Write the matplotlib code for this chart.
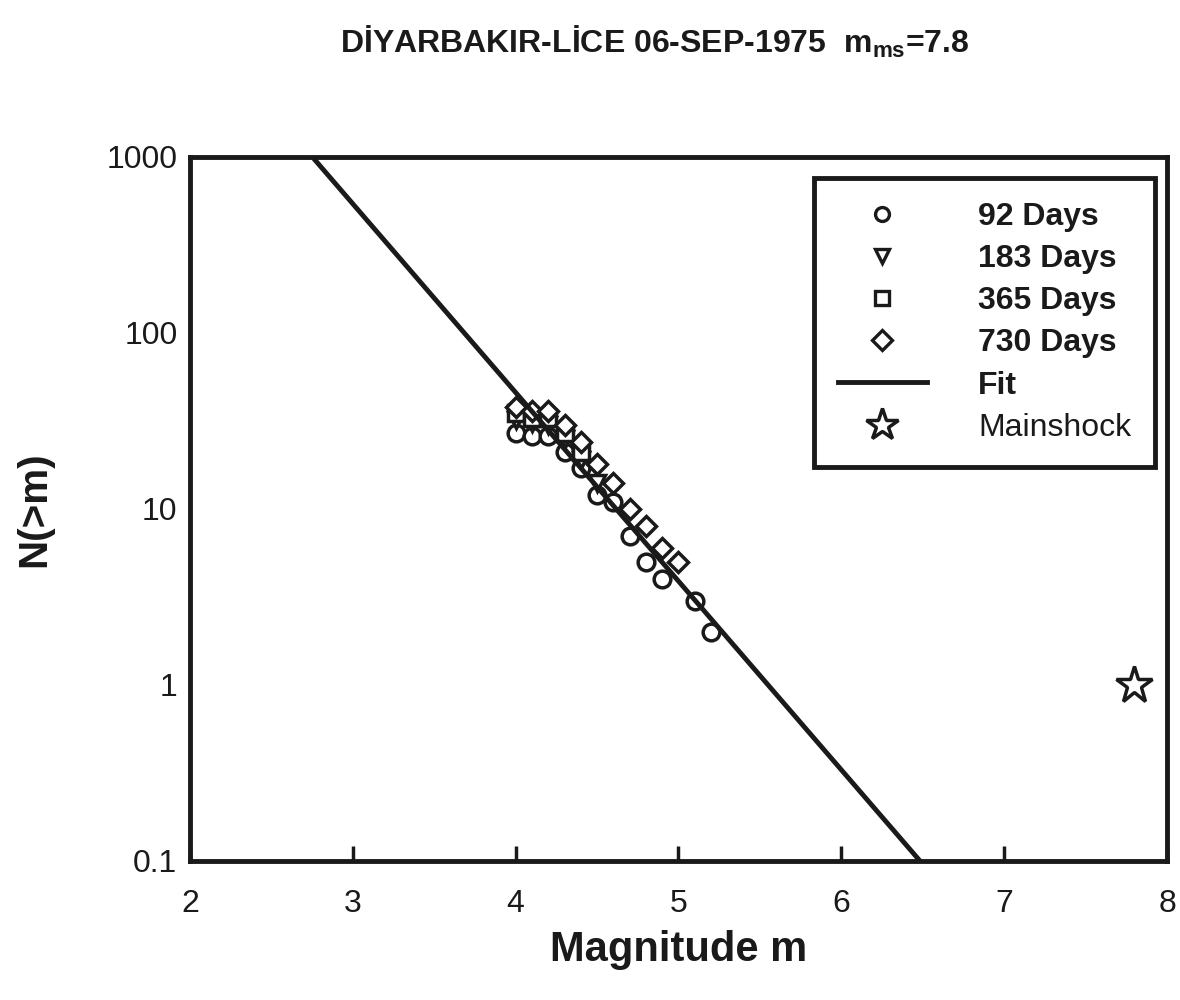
import numpy as np
import matplotlib.pyplot as plt

plt.rcParams['font.family'] = ['Liberation Sans', 'DejaVu Sans']
plt.rcParams['mathtext.fontset'] = 'custom'
plt.rcParams['mathtext.rm'] = 'Liberation Sans'
plt.rcParams['mathtext.bf'] = 'Liberation Sans:bold'

# cumulative number of aftershocks N(>m) for each time window
m_92 = [4.0, 4.1, 4.2, 4.3, 4.4, 4.5, 4.6, 4.7, 4.8, 4.9, 5.1, 5.2]
n_92 = [27, 26, 26, 21, 17, 12, 11, 7, 5, 4, 3, 2]
m_183 = [4.0, 4.1, 4.2, 4.3, 4.4, 4.5]
n_183 = [32, 31, 30, 25, 19, 14]
m_365 = [4.0, 4.1, 4.2, 4.3, 4.4]
n_365 = [35, 33, 33, 27, 21]
m_730 = [4.0, 4.1, 4.2, 4.3, 4.4, 4.5, 4.6, 4.7, 4.8, 4.9, 5.0]
n_730 = [38, 36, 36, 30, 24, 18, 14, 10, 8, 6, 5]

# Gutenberg-Richter fit: log10 N = a - b*m
fit_a = 5.95
fit_b = 1.072
fit_m = [2.0, 8.0]

main_m = 7.8
main_n = 1

ink = '#1a1a1a'

fig = plt.figure(figsize=(11.8, 10), dpi=100)
ax = fig.add_axes([0.161, 0.139, 0.828, 0.704])

mk = dict(linestyle='none', markerfacecolor='white', markeredgecolor=ink,
          markeredgewidth=2.5, color=ink)
ax.plot(m_92, n_92, marker='o', markersize=12, label='92 Days', **mk)
ax.plot(m_183, n_183, marker='v', markersize=12, label='183 Days', **mk)
ax.plot(m_365, n_365, marker='s', markersize=11, label='365 Days', **mk)
ax.plot(m_730, n_730, marker='D', markersize=10.5, label='730 Days', **mk)

fm = np.array(fit_m)
ax.plot(fm, 10 ** (fit_a - fit_b * fm), color=ink, lw=3.5, label='Fit')
ax.plot([main_m], [main_n], marker='*', markersize=28, label='Mainshock', **mk)

ax.set_yscale('log')
ax.set_xlim(2, 8)
ax.set_ylim(0.1, 1000)
ax.set_yticks([0.1, 1, 10, 100, 1000])
ax.set_yticklabels(['0.1', '1', '10', '100', '1000'])
ax.minorticks_off()
ax.tick_params(axis='x', direction='in', length=11, width=2.5, labelsize=23, pad=20, colors=ink)
ax.tick_params(axis='y', direction='in', length=0, labelsize=23, pad=9, colors=ink)
for s in ax.spines.values():
    s.set_linewidth(3.5)
    s.set_color(ink)

ax.set_xlabel('Magnitude m', fontsize=30, fontweight='bold', labelpad=8, color=ink)
ax.set_ylabel('N(>m)', fontsize=29, fontweight='bold', labelpad=38, color=ink)

leg = ax.legend(loc='upper right', bbox_to_anchor=(0.988, 0.97), fontsize=23,
                frameon=True, fancybox=False, edgecolor=ink, framealpha=1,
                borderpad=0.75, labelspacing=0.38, handlelength=2.8,
                handletextpad=1.6, borderaxespad=0)
leg.get_frame().set_linewidth(3.5)
for i, t in enumerate(leg.get_texts()):
    t.set_color(ink)
    if i < 5:
        t.set_fontweight('bold')
for h in leg.legend_handles[:4]:
    h.set_markersize(10)
    h.set_markeredgewidth(2.4)
leg.legend_handles[5].set_markersize(24)

fig.text(0.555, 0.958, r'DİYARBAKIR-LİCE 06-SEP-1975  m$_{\mathbf{ms}}$=7.8',
         ha='center', va='center', fontsize=23, fontweight='bold', color=ink)

fig.savefig('out.png', dpi=100)
